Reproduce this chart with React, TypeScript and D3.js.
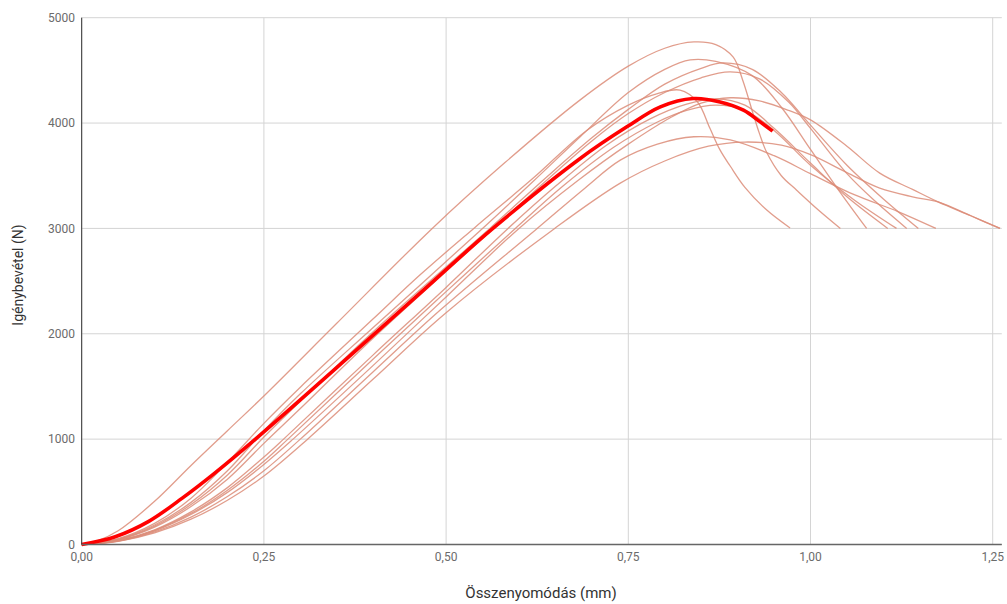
import React from "react";
import * as d3 from "d3";

type P = [number, number];

const xTicks = [0, 0.25, 0.5, 0.75, 1.0, 1.25];
const yTicks = [0, 1000, 2000, 3000, 4000, 5000];

const c1: P[] = [[0,0],[0.02,30],[0.05,130],[0.1,410],[0.15,750],[0.2,1080],[0.25,1410],[0.35,2100],[0.481,3000],[0.58,3620],[0.684,4220],[0.75,4540],[0.8,4710],[0.84,4770],[0.87,4745],[0.894,4625],[0.907,4407],[0.921,4094],[0.93,3900],[0.94,3720],[0.96,3500],[0.981,3363],[1.01,3180],[1.041,3000]];
const c2: P[] = [[0,0],[0.05,55],[0.1,200],[0.15,440],[0.2,780],[0.25,1150],[0.3,1493],[0.4,2142],[0.464,2557],[0.538,3000],[0.62,3480],[0.693,3930],[0.75,4170],[0.79,4280],[0.821,4313],[0.845,4200],[0.862,3950],[0.876,3743],[0.89,3590],[0.91,3390],[0.94,3174],[0.972,3004]];
const c3: P[] = [[0,0],[0.05,50],[0.1,185],[0.15,400],[0.2,700],[0.25,1080],[0.3,1430],[0.4,2060],[0.55,3000],[0.62,3450],[0.684,3870],[0.75,4290],[0.8,4510],[0.835,4600],[0.87,4585],[0.92,4450],[0.96,4150],[1.0,3750],[1.04,3350],[1.077,3000]];
const c4: P[] = [[0,0],[0.05,48],[0.1,175],[0.15,380],[0.2,660],[0.25,1020],[0.3,1360],[0.4,2020],[0.56,3000],[0.64,3500],[0.7,3860],[0.75,4130],[0.8,4370],[0.85,4520],[0.88,4571],[0.92,4510],[0.96,4290],[1.0,3980],[1.05,3600],[1.1,3280],[1.148,3000]];
const c5: P[] = [[0,0],[0.05,45],[0.1,165],[0.15,360],[0.2,620],[0.25,960],[0.3,1290],[0.4,1960],[0.565,3000],[0.64,3470],[0.7,3830],[0.75,4090],[0.8,4290],[0.85,4430],[0.89,4486],[0.93,4420],[0.97,4200],[1.0,3950],[1.05,3520],[1.09,3250],[1.132,3000]];
const c6: P[] = [[0,0],[0.05,38],[0.1,140],[0.15,310],[0.2,540],[0.25,830],[0.277,1000],[0.4,1800],[0.5,2440],[0.585,3000],[0.65,3400],[0.72,3790],[0.78,4040],[0.83,4180],[0.87,4230],[0.91,4170],[0.95,3950],[1.0,3620],[1.05,3300],[1.106,3000]];
const c7: P[] = [[0,0],[0.05,36],[0.1,135],[0.15,295],[0.2,515],[0.25,790],[0.283,1000],[0.4,1760],[0.5,2400],[0.595,3000],[0.66,3400],[0.73,3770],[0.79,4010],[0.83,4120],[0.87,4170],[0.91,4120],[0.95,3930],[1.0,3600],[1.06,3270],[1.118,3000]];
const c8: P[] = [[0,0],[0.05,35],[0.1,130],[0.15,285],[0.2,495],[0.25,760],[0.29,1000],[0.4,1700],[0.5,2350],[0.6,3000],[0.68,3450],[0.75,3800],[0.81,4060],[0.85,4190],[0.89,4240],[0.93,4210],[0.97,4120],[1.0,4030],[1.05,3780],[1.095,3525],[1.14,3370],[1.175,3252],[1.22,3120],[1.26,3000]];
const c9: P[] = [[0,0],[0.05,32],[0.1,120],[0.15,260],[0.2,455],[0.25,700],[0.3,1000],[0.4,1640],[0.492,2225],[0.625,3000],[0.69,3380],[0.739,3648],[0.79,3800],[0.84,3870],[0.89,3840],[0.95,3690],[1.0,3520],[1.06,3320],[1.12,3160],[1.172,3000]];
const c10: P[] = [[0,0],[0.05,30],[0.1,110],[0.15,240],[0.2,420],[0.25,650],[0.31,1000],[0.4,1570],[0.5,2200],[0.649,3000],[0.739,3430],[0.8,3640],[0.86,3780],[0.91,3820],[0.96,3790],[1.0,3700],[1.05,3530],[1.095,3383],[1.14,3300],[1.175,3252],[1.22,3120],[1.26,3000]];

const specimens: P[][] = [c1, c2, c3, c4, c5, c6, c7, c8, c9, c10];

const mean: P[] = [[0,0],[0.046,74],[0.092,220],[0.138,440],[0.183,680],[0.24,1010],[0.368,1790],[0.464,2383],[0.563,2993],[0.684,3664],[0.748,3964],[0.794,4154],[0.839,4233],[0.876,4201],[0.908,4122],[0.931,4011],[0.948,3923]];

const fmtX = (v: number) => v.toFixed(2).replace(".", ",");

export default function App() {
  const W = 1007, H = 604;
  const x = d3.scaleLinear().domain([0, 1.25]).range([81.7, 992.7]);
  const y = d3.scaleLinear().domain([0, 5000]).range([544.5, 17.7]);
  const right = x(1.2625);
  const line = d3.line<P>().x(d => x(d[0])).y(d => y(d[1])).curve(d3.curveCatmullRom.alpha(0.5));
  const font = "Roboto, Arial, sans-serif";
  return (
    <svg width={W} height={H} style={{ position: "absolute", left: 0, top: 0, background: "#fff" }}>
      <g>
        {yTicks.map(t => (
          <line key={"gy" + t} x1={x(0)} x2={right} y1={y(t)} y2={y(t)} stroke="#d4d4d4" strokeWidth={1} />
        ))}
        {xTicks.map(t => (
          <line key={"gx" + t} x1={x(t)} x2={x(t)} y1={y(0)} y2={y(5000)} stroke="#d4d4d4" strokeWidth={1} />
        ))}
      </g>
      <g fill="none">
        {specimens.map((s, i) => (
          <path key={i} d={line(s) || ""} stroke="#dc8c78" strokeOpacity={0.85} strokeWidth={1.3} />
        ))}
        <path d={line(mean) || ""} stroke="#ff0000" strokeWidth={3.6} strokeLinecap="butt" />
      </g>
      <line x1={x(0)} x2={x(0)} y1={y(0)} y2={y(5000)} stroke="#333" strokeWidth={1} />
      <line x1={x(0)} x2={right} y1={y(0)} y2={y(0)} stroke="#666" strokeWidth={1.5} />
      <g fontFamily={font} fontSize={12} fill="#6b6b6b">
        {yTicks.map(t => (
          <text key={"ty" + t} x={75} y={y(t)} dy="0.35em" textAnchor="end">{t}</text>
        ))}
        {xTicks.map(t => (
          <text key={"tx" + t} x={x(t)} y={561} textAnchor="middle">{fmtX(t)}</text>
        ))}
      </g>
      <text x={541} y={598} textAnchor="middle" fontFamily={font} fontSize={15} fill="#333">Összenyomódás (mm)</text>
      <text transform={`translate(23,275) rotate(-90)`} textAnchor="middle" fontFamily={font} fontSize={14} fill="#333">Igénybevétel (N)</text>
    </svg>
  );
}
